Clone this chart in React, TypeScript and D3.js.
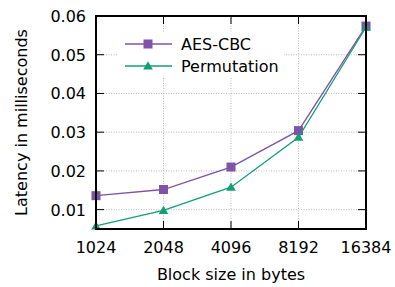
import React, { useEffect, useRef } from "react"
import * as d3 from "d3"

const blockSizes = [1024, 2048, 4096, 8192, 16384]
const aesCbc = [0.0136, 0.0152, 0.021, 0.0304, 0.0574]
const permutation = [0.0058, 0.0098, 0.0158, 0.0287, 0.0571]
const yTicks = [0.01, 0.02, 0.03, 0.04, 0.05, 0.06]

const series = [
  { name: "AES-CBC", values: aesCbc, color: "#8052a8", marker: "square" },
  { name: "Permutation", values: permutation, color: "#139e78", marker: "triangle" },
]

const width = 395
const height = 287
const margin = { top: 16, right: 29, bottom: 58, left: 96 }

export default function App() {
  const ref = useRef<SVGSVGElement>(null)

  useEffect(() => {
    const svg = d3.select(ref.current)
    svg.selectAll("*").remove()

    const x = d3
      .scaleLog()
      .base(2)
      .domain([1024, 16384])
      .range([margin.left, width - margin.right])
    const y = d3
      .scaleLinear()
      .domain([0.005, 0.06])
      .range([height - margin.bottom, margin.top])

    const font = "'DejaVu Sans', sans-serif"
    const fs = 16
    const x0 = margin.left
    const x1 = width - margin.right
    const y0 = height - margin.bottom
    const y1 = margin.top

    // grid
    const grid = svg.append("g").attr("stroke", "#aaa").attr("stroke-width", 0.8).attr("stroke-dasharray", "1,1.5")
    grid
      .selectAll("line.h")
      .data(yTicks.filter(t => t < 0.06))
      .join("line")
      .attr("x1", x0)
      .attr("x2", x1)
      .attr("y1", d => y(d))
      .attr("y2", d => y(d))
    grid
      .selectAll("line.v")
      .data(blockSizes.slice(1, -1))
      .join("line")
      .attr("x1", d => x(d))
      .attr("x2", d => x(d))
      .attr("y1", y0)
      .attr("y2", y1)

    // legend box (opaque)
    svg.append("rect").attr("x", 117).attr("y", 32).attr("width", 167).attr("height", 46).attr("fill", "white")

    // ticks
    const ticks = svg.append("g").attr("stroke", "black").attr("stroke-width", 1)
    yTicks.forEach(t => {
      ticks.append("line").attr("x1", x0).attr("x2", x0 + 8).attr("y1", y(t)).attr("y2", y(t))
      ticks.append("line").attr("x1", x1).attr("x2", x1 - 8).attr("y1", y(t)).attr("y2", y(t))
    })
    blockSizes.forEach(b => {
      ticks.append("line").attr("x1", x(b)).attr("x2", x(b)).attr("y1", y0).attr("y2", y0 - 8)
      ticks.append("line").attr("x1", x(b)).attr("x2", x(b)).attr("y1", y1).attr("y2", y1 + 8)
    })

    // tick labels
    svg
      .append("g")
      .attr("font-family", font)
      .attr("font-size", fs)
      .attr("text-anchor", "end")
      .selectAll("text")
      .data(yTicks)
      .join("text")
      .attr("x", x0 - 10)
      .attr("y", d => y(d) + 6)
      .text(d => d.toFixed(2))
    svg
      .append("g")
      .attr("font-family", font)
      .attr("font-size", fs)
      .attr("text-anchor", "middle")
      .selectAll("text")
      .data(blockSizes)
      .join("text")
      .attr("x", d => x(d))
      .attr("y", 253)
      .text(d => d)

    // axis labels
    svg
      .append("text")
      .attr("font-family", font)
      .attr("font-size", fs)
      .attr("text-anchor", "middle")
      .attr("x", (x0 + x1) / 2)
      .attr("y", 280)
      .text("Block size in bytes")
    svg
      .append("text")
      .attr("font-family", font)
      .attr("font-size", fs)
      .attr("text-anchor", "middle")
      .attr("transform", `translate(27,${(y0 + y1) / 2}) rotate(-90)`)
      .text("Latency in milliseconds")

    const line = d3
      .line<number>()
      .x((d, i) => x(blockSizes[i]))
      .y(d => y(d))

    const drawMarker = (g: any, kind: string, cx: number, cy: number, color: string) => {
      if (kind === "square") {
        g.append("rect").attr("x", cx - 4.5).attr("y", cy - 4.5).attr("width", 9).attr("height", 9).attr("fill", color)
      } else {
        const s = d3.symbol(d3.symbolTriangle, 40)
        g.append("path").attr("d", s()).attr("transform", `translate(${cx},${cy + 0.8})`).attr("fill", color)
      }
    }

    series.forEach(s => {
      const g = svg.append("g")
      g.append("path")
        .attr("d", line(s.values))
        .attr("fill", "none")
        .attr("stroke", s.color)
        .attr("stroke-width", 1.3)
      s.values.forEach((v, i) => drawMarker(g, s.marker, x(blockSizes[i]), y(v), s.color))
    })

    // legend
    series.forEach((s, i) => {
      const ly = 44 + i * 22
      const g = svg.append("g")
      g.append("line").attr("x1", 125).attr("x2", 172).attr("y1", ly).attr("y2", ly).attr("stroke", s.color).attr("stroke-width", 1.3)
      drawMarker(g, s.marker, 148, ly, s.color)
      g.append("text")
        .attr("font-family", font)
        .attr("font-size", fs)
        .attr("x", 181)
        .attr("y", ly + 6)
        .text(s.name)
    })

    // frame
    svg
      .append("rect")
      .attr("x", x0)
      .attr("y", y1)
      .attr("width", x1 - x0)
      .attr("height", y0 - y1)
      .attr("fill", "none")
      .attr("stroke", "black")
      .attr("stroke-width", 2)
  }, [])

  return <svg ref={ref} width={width} height={height} style={{ position: "absolute", left: 0, top: 0 }}></svg>
}
